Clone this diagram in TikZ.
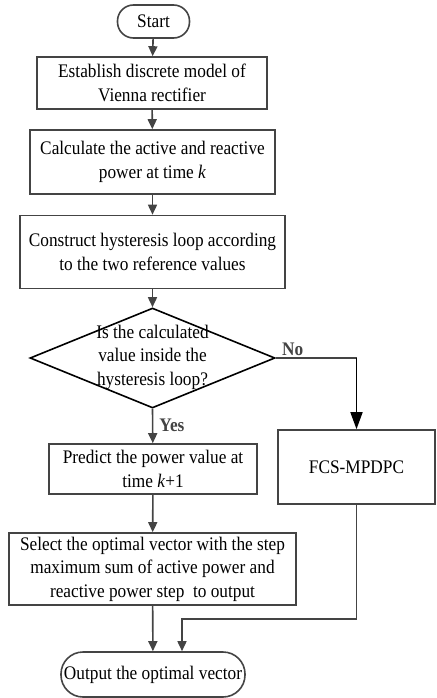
\documentclass[tikz,border=0pt]{standalone}
\usepackage{fontspec}
\setmainfont{Liberation Serif}[FakeStretch=0.9]
\usetikzlibrary{arrows.meta,positioning,shapes.geometric,calc}
\definecolor{flowgray}{RGB}{68,68,68}
\newcommand{\flowfont}{\fontsize{19.2}{23.5}\selectfont}

\begin{document}
\begin{tikzpicture}[
  x=1pt, y=-1pt,
  proc/.style={draw=flowgray, line width=1.6pt, align=center, inner sep=0pt, font=\flowfont},
  decide/.style={draw=black, line width=1.6pt, diamond, inner sep=0pt},
  arr/.style={-{Triangle[length=10pt,width=9pt]}, line width=1.6pt, flowgray},
  noarr/.style={-{Triangle[length=17pt,width=12pt]}, line width=1.6pt, black},
  lbl/.style={font=\flowfont\bfseries, inner sep=0pt}
]
\useasboundingbox (0,0) rectangle (436,698);

\node[proc, rounded corners=16pt, minimum width=72pt, minimum height=33pt] (start) at (153.5,21.5) {Start};
\node[proc, minimum width=230pt, minimum height=52pt] (est) at (152,83) {Establish discrete model of\\Vienna rectifier};
\node[proc, minimum width=245pt, minimum height=64pt] (calc) at (152.5,162) {Calculate the active and reactive\\power at time \textit{k}};
\node[proc, minimum width=265pt, minimum height=73pt] (cons) at (152.5,252) {Construct hysteresis loop according\\to the two reference values};
\node[decide, minimum width=245pt, minimum height=100pt] (dec) at (152.5,358) {};
\node[font=\flowfont, align=center, inner sep=0pt] (dectxt) at (152.5,357) {Is the calculated\\value inside the\\hysteresis loop?};
\node[proc, minimum width=208pt, minimum height=50pt] (pred) at (153,469) {Predict the power value at\\time \textit{k}+1};
\node[proc, minimum width=287pt, minimum height=72pt] (sel) at (152.5,569) {Select the optimal vector with the step\\maximum sum of active power and\\reactive power step\ \ to output};
\node[proc, minimum width=157pt, minimum height=74pt] (fcs) at (356.5,467) {FCS-MPDPC};
\node[proc, rounded corners=22pt, minimum width=184pt, minimum height=45pt] (out) at (153,674.5) {Output the optimal vector};

% main path
\draw[arr] (start) -- (est);
\draw[arr] (est) -- (calc);
\draw[arr] (calc) -- (cons);
\draw[arr] (cons) -- (dec.north);
\draw[arr] (dec.south) -- (pred) node[pos=0.47, right=6pt, lbl] {Yes};
\draw[arr] (pred) -- (sel);
\draw[arr] (sel) -- (out);

% no branch
\coordinate (nocorner) at (dec.east -| fcs.north);
\draw[line width=1.6pt, flowgray] (dec.east) -- (nocorner) node[pos=0.21, above=2pt, lbl] {No};
\draw[noarr] (nocorner) -- (fcs.north);
\coordinate (join) at (182,619);
\draw[arr] (fcs.south) |- (join) -- (join |- out.north);
\end{tikzpicture}
\end{document}
